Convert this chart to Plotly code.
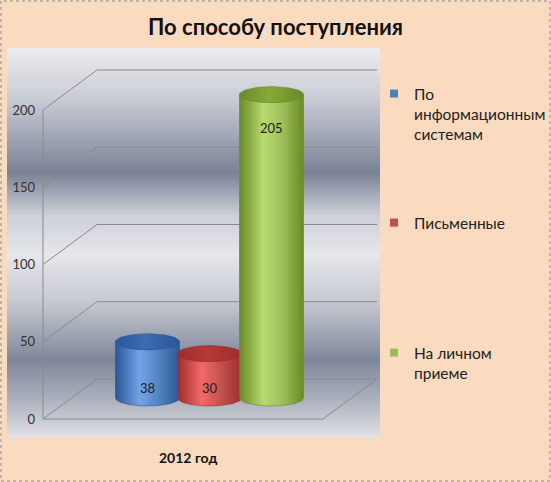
import numpy as np
import plotly.graph_objects as go

# data
title = "По способу поступления"
category = "2012 год"
series = ["По<br>информационным<br>системам", "Письменные", "На личном<br>приеме"]
values = [38, 30, 205]
tick_vals = [0, 50, 100, 150, 200]

W, H = 551, 482
FONT = "Lato, 'Open Sans', sans-serif"
PEACH = "#FBDBBF"
FRAME = "#8a8a8a"

# colours per series: dark edge, highlight, top face
mid_cols = ["#4F81BD", "#C0504D", "#9BBB59"]
edge_cols = ["#2c5796", "#a02c2a", "#6a8a26"]
light_cols = ["#72a3e8", "#f06a66", "#b9db70"]
top_cols = ["#3c6cb2", "#b33a37", "#86a93a"]

# --- geometry of the fake 3D frame (pixels) ---
FRONT_L, FRONT_R = 43, 323
DEPTH_X, DEPTH_Y = 54, -40
PLOT_L, PLOT_R, PLOT_T, PLOT_B = 7, 380, 48, 438

# x: bar plane, 1 unit = spacing between cylinders
X_CENTER_PX, X_UNIT_PX = 209.5, 62.0
BAR_W = 64 / X_UNIT_PX
# y (front plane) and y2 (plane through the cylinders)
Y0_PX, Y_SCALE = 419, 1.545
Y2_0_PX, Y2_SCALE = 398, 1.48
ELL = 8 / Y2_SCALE


def px_x(px):
    return (px - X_CENTER_PX) / X_UNIT_PX


def px_y(py):
    return (Y0_PX - py) / Y_SCALE


x_range = [px_x(0), px_x(W)]
y_range = [px_y(H), px_y(0)]
y2_range = [-(H - Y2_0_PX) / Y2_SCALE, Y2_0_PX / Y2_SCALE]
dyv = -DEPTH_Y / Y_SCALE

fig = go.Figure()

# plot area background with grey bands
bands = [(0.0, "#ebecef"), (0.13, "#c9ccd4"), (0.32, "#7b8296"), (0.43, "#cdd0d8"),
         (0.53, "#e6e7eb"), (0.65, "#c6c9d1"), (0.80, "#80879b"), (0.90, "#aab0bc"),
         (1.0, "#e1e2e6")]
fig.add_trace(go.Scatter(
    x=[px_x(PLOT_L), px_x(PLOT_R), px_x(PLOT_R), px_x(PLOT_L), px_x(PLOT_L)],
    y=[px_y(PLOT_B), px_y(PLOT_B), px_y(PLOT_T), px_y(PLOT_T), px_y(PLOT_B)],
    fill="toself", mode="lines", line=dict(width=0, color="rgba(0,0,0,0)"),
    fillgradient=dict(type="vertical",
                      colorscale=[[1 - f, c] for f, c in reversed(bands)]),
    hoverinfo="skip", showlegend=False))

# walls and floor lines
fl, fr = px_x(FRONT_L), px_x(FRONT_R)
bl, br = px_x(FRONT_L + DEPTH_X), px_x(FRONT_R + DEPTH_X)
lx, ly = [fl, fl, None], [0, tick_vals[-1], None]
for v in tick_vals:
    lx += [fl, bl, br, None]
    ly += [v, v + dyv, v + dyv, None]
lx += [fl, fr, br, None]
ly += [0, 0, dyv, None]
fig.add_trace(go.Scatter(x=lx, y=ly, mode="lines", line=dict(color=FRAME, width=1),
                         hoverinfo="skip", showlegend=False))

# cylinders
t_bot = np.linspace(np.pi, 2 * np.pi, 60)
t_top = np.linspace(0, -np.pi, 60)
t_full = np.linspace(0, 2 * np.pi, 90)
w = BAR_W / 2
for i, (name, v) in enumerate(zip(series, values)):
    cx = i - 1
    fig.add_trace(go.Bar(x=[cx], y=[v], width=BAR_W, yaxis="y2",
                         marker=dict(color=mid_cols[i], line=dict(width=0)),
                         name=name.replace("<br>", " "), showlegend=False,
                         hovertemplate="%{y}<extra></extra>"))
    bx = np.concatenate([cx + w * np.cos(t_bot), cx + w * np.cos(t_top)])
    by = np.concatenate([ELL * np.sin(t_bot), v + ELL * np.sin(t_top)])
    bx = np.append(bx, bx[0])
    by = np.append(by, by[0])
    fig.add_trace(go.Scatter(
        x=bx, y=by, yaxis="y2", fill="toself", mode="lines",
        line=dict(width=0.6, color=edge_cols[i]),
        fillgradient=dict(type="horizontal",
                          colorscale=[[0, edge_cols[i]], [0.38, light_cols[i]],
                                      [0.7, mid_cols[i]], [1, edge_cols[i]]]),
        hoverinfo="skip", showlegend=False))
    fig.add_trace(go.Scatter(
        x=cx + w * np.cos(t_full), y=v + ELL * np.sin(t_full), yaxis="y2",
        fill="toself", mode="lines", line=dict(width=0.6, color=edge_cols[i]),
        fillgradient=dict(type="horizontal",
                          colorscale=[[0, edge_cols[i]], [0.45, top_cols[i]],
                                      [1, edge_cols[i]]]),
        hoverinfo="skip", showlegend=False))
    # legend entry
    fig.add_trace(go.Scatter(x=[None], y=[None], mode="markers", name=name,
                             marker=dict(symbol="square", size=8, color=mid_cols[i]),
                             legend="legend" if i == 0 else f"legend{i + 1}"))

# data labels
for i, v in enumerate(values):
    low = v < 100
    fig.add_annotation(x=i - 1, y=0 if low else v, xref="x", yref="y2",
                       yshift=10 if low else -33, text=str(v), showarrow=False,
                       font=dict(family=FONT, size=13, color="#222"))

fig.add_annotation(x=188 / W, y=1 - 468 / H, xref="paper", yref="paper",
                   text=f"<b>{category}</b>", showarrow=False,
                   font=dict(family=FONT, size=14, color="#111"))

leg = dict(bgcolor="rgba(0,0,0,0)", font=dict(family=FONT, size=15.5, color="#222"),
           xanchor="left", yanchor="top", valign="top", x=374 / W)
fig.update_layout(
    width=W, height=H, margin=dict(l=0, r=0, t=0, b=0, autoexpand=False),
    paper_bgcolor=PEACH, plot_bgcolor="rgba(0,0,0,0)",
    title=dict(text=f"<b>{title}</b>", x=0.5, y=1 - 27 / H, xanchor="center",
               yanchor="middle", font=dict(family=FONT, size=22, color="#111")),
    xaxis=dict(range=x_range, visible=False, fixedrange=True),
    yaxis=dict(range=y_range, tickvals=tick_vals, anchor="free",
               position=FRONT_L / W, showgrid=False, zeroline=False, showline=False,
               ticks="", ticklabelstandoff=8, fixedrange=True,
               tickfont=dict(family=FONT, size=13, color="#333")),
    yaxis2=dict(range=y2_range, overlaying="y", visible=False, fixedrange=True),
    showlegend=True,
    legend=dict(leg, y=1 - 77 / H),
    legend2=dict(leg, y=1 - 206 / H),
    legend3=dict(leg, y=1 - 336 / H),
    shapes=[dict(type="rect", xref="paper", yref="paper",
                 x0=1 / W, x1=1 - 1 / W, y0=1 / H, y1=1 - 1 / H,
                 line=dict(color="#8c8c8c", width=1, dash="dot"))],
)

fig.write_html("out.html", config={"displayModeBar": False},
               post_script="document.body.style.margin='0';")
